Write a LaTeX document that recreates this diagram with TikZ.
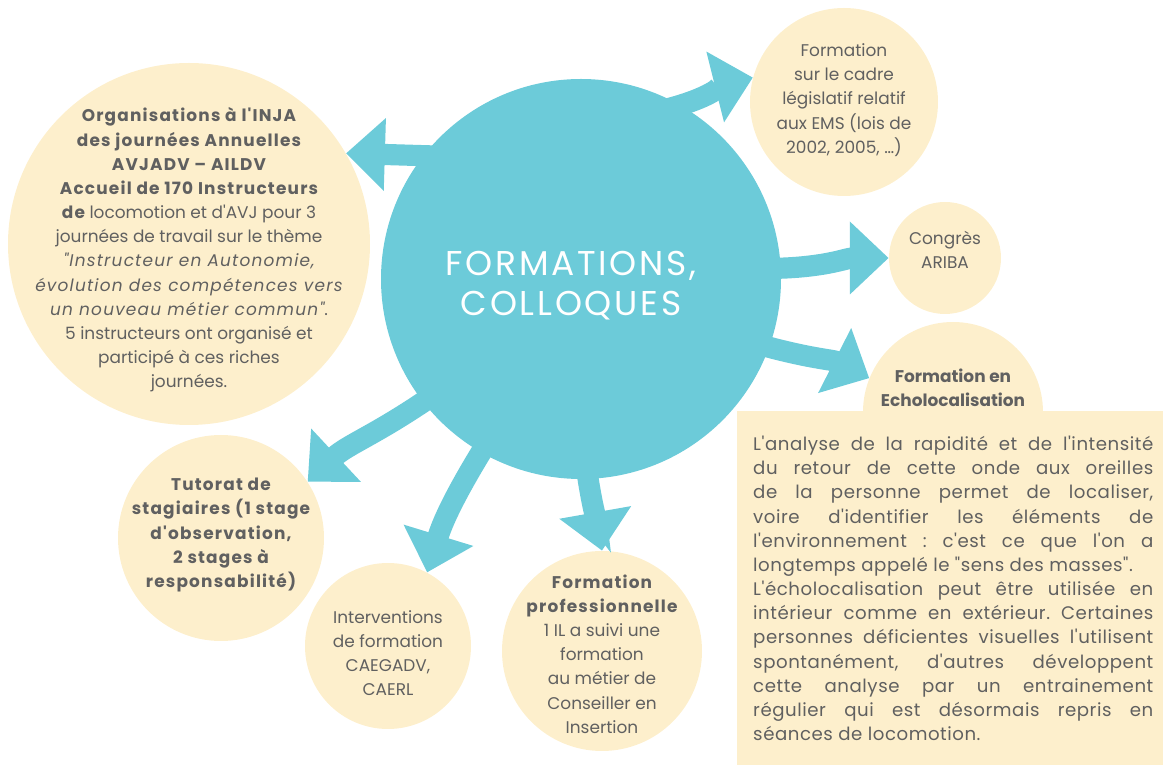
\documentclass[tikz,border=0pt]{standalone}
\usepackage{fontspec}
\setmainfont{Poppins}[Ligatures=TeXOff]
\usepackage{xcolor}
\usetikzlibrary{arrows.meta, positioning}
\definecolor{hubcyan}{HTML}{6CCBD9}
\definecolor{cream}{HTML}{FDEFCC}
\definecolor{txtgrey}{HTML}{606060}
\newcommand{\px}{0.5669pt}
\newcommand{\bfx}[1]{{\bfseries\addfontfeature{LetterSpace=7}#1}}
\newcommand{\itx}[1]{{\itshape\addfontfeature{LetterSpace=7}#1}}

\begin{document}
\begin{tikzpicture}[x=0.5669pt, y=-0.5669pt,
    bubble/.style={circle, fill=cream, inner sep=0pt},
    bubtext/.style={text=txtgrey, align=center, inner sep=0pt,
        font=\fontsize{9.6}{13.7}\selectfont},
    hubnode/.style={circle, fill=hubcyan, inner sep=0pt},
    flow/.style={draw=hubcyan, line width=12pt, shorten <=-10pt,
        -{Triangle[width=40pt, length=22pt]}}]
    \useasboundingbox (0, 0) rectangle (1163, 765);
    \node[hubnode, minimum size=400*\px] (hub) at (581, 279) {};
    \node[text=white, align=center, font=\fontsize{19.5}{22.7}\selectfont\addfontfeature{LetterSpace=8}] (title) at (571, 286) {FORMATIONS,\\COLLOQUES};
    \node[bubble, minimum size=362*\px] (inja) at (189, 244) {};
    \node[bubtext] (injatext) at (189, 250) {\bfx{Organisations à l'INJA}\\
        \bfx{des journées Annuelles}\\
        \bfx{AVJADV – AILDV}\\
        \bfx{Accueil de 170 Instructeurs}\\
        \bfx{de} locomotion et d'AVJ pour 3\\
        journées de travail sur le thème\\
        \itx{"Instructeur en Autonomie,}\\
        \itx{évolution des compétences vers}\\
        \itx{un nouveau métier commun"}.\\
        5 instructeurs ont organisé et\\
        participé à ces riches\\
        journées.};
    \node[bubble, minimum size=188*\px] (cadre) at (844, 102) {};
    \node[bubtext] (cadretext) at (844, 100) {Formation\\ sur le cadre\\ législatif relatif\\ aux EMS (lois de\\ 2002, 2005, \ldots)};
    \node[bubble, minimum size=112*\px] (congres) at (945, 258) {};
    \node[bubtext] (congrestext) at (945, 250) {Congrès\\ ARIBA};
    \node[bubble, minimum size=180*\px] (echo) at (953, 412) {};
    \node[fill=cream, text=txtgrey, anchor=north west, inner xsep=9pt, inner ysep=0pt,
        text width=226.8pt, minimum height=200.7pt, align=justify,
        font=\fontsize{10.3}{13.7}\selectfont\frenchspacing\addfontfeature{LetterSpace=3}] (echobox) at (737, 411) {L'analyse de la rapidité et de l'intensité\linebreak
        du retour de cette onde aux oreilles\linebreak
        de la personne permet de localiser,\linebreak
        voire d'identifier les éléments de\linebreak
        l'environnement : c'est ce que l'on a\linebreak
        longtemps appelé le "sens des masses".\\
        L'écholocalisation peut être utilisée en\linebreak
        intérieur comme en extérieur. Certaines\linebreak
        personnes déficientes visuelles l'utilisent\linebreak
        spontanément, d'autres développent\linebreak
        cette analyse par un entrainement\linebreak
        régulier qui est désormais repris en\linebreak
        séances de locomotion.};
    \node[bubtext] (echotitle) at (953, 388) {\textbf{Formation en}\\ \textbf{Echolocalisation}};
    \node[bubble, minimum size=206*\px] (tutorat) at (221, 538) {};
    \node[bubtext] (tutorattext) at (221, 535) {\bfx{Tutorat de}\\ \bfx{stagiaires (1 stage}\\ \bfx{d'observation,}\\ \bfx{2 stages à}\\ \bfx{responsabilité)}};
    \node[bubble, minimum size=166*\px] (interv) at (388, 646) {};
    \node[bubtext] (intervtext) at (388, 653) {Interventions\\ de formation\\ CAEGADV,\\ CAERL};
    \node[bubble, minimum size=200*\px] (pro) at (602, 651) {};
    \node[bubtext] (protext) at (602, 654) {\bfx{Formation}\\ \bfx{professionnelle}\\ 1 IL a suivi une\\ formation\\ au métier de\\ Conseiller en\\ Insertion};
    \draw[flow] (hub.142) -- (inja.30);
    \draw[flow] (hub.60) to[out=14, in=194] (cadre.165);
    \draw[flow] (hub.3) to[out=0, in=180] (congres.180);
    \draw[flow] (hub.-20) to[out=-16, in=153] (echo.158);
    \draw[flow] (hub.218) to[out=215, in=43] (tutorat.33);
    \draw[flow] (hub.240) to[out=238, in=73] (interv.62);
    \draw[flow] (hub.272) to[out=278, in=100] (pro.north);
\end{tikzpicture}
\end{document}
